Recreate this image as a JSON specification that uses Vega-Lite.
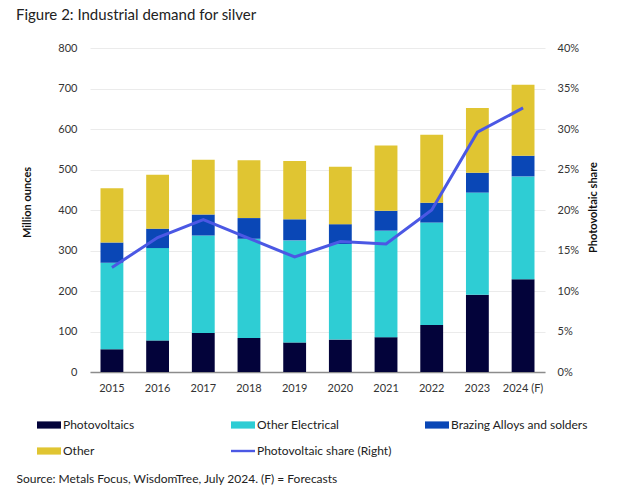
{
  "$schema": "https://vega.github.io/schema/vega-lite/v6.json",
  "width": 455,
  "height": 324,
  "autosize": {"type": "none"},
  "padding": {"left": 90, "top": 48, "right": 79, "bottom": 114},
  "background": "white",
  "config": {
    "view": {"stroke": null},
    "font": "Lato",
    "axis": {"labelFont": "Lato", "titleFont": "Lato", "labelColor": "#333333", "titleColor": "#111111"}
  },
  "title": {
    "text": "Figure 2: Industrial demand for silver",
    "anchor": "start",
    "frame": "group",
    "dx": -74,
    "offset": 19,
    "font": "Lato",
    "fontSize": 15,
    "fontWeight": "normal",
    "color": "#222222"
  },
  "datasets": {
    "bars": [
      {"year": "2015", "cat": "Photovoltaics", "k": 1, "v": 56},
      {"year": "2015", "cat": "Other Electrical", "k": 2, "v": 214},
      {"year": "2015", "cat": "Brazing Alloys and solders", "k": 3, "v": 50},
      {"year": "2015", "cat": "Other", "k": 4, "v": 134},
      {"year": "2016", "cat": "Photovoltaics", "k": 1, "v": 78},
      {"year": "2016", "cat": "Other Electrical", "k": 2, "v": 228},
      {"year": "2016", "cat": "Brazing Alloys and solders", "k": 3, "v": 48},
      {"year": "2016", "cat": "Other", "k": 4, "v": 133},
      {"year": "2017", "cat": "Photovoltaics", "k": 1, "v": 96},
      {"year": "2017", "cat": "Other Electrical", "k": 2, "v": 241},
      {"year": "2017", "cat": "Brazing Alloys and solders", "k": 3, "v": 52},
      {"year": "2017", "cat": "Other", "k": 4, "v": 135},
      {"year": "2018", "cat": "Photovoltaics", "k": 1, "v": 84},
      {"year": "2018", "cat": "Other Electrical", "k": 2, "v": 245},
      {"year": "2018", "cat": "Brazing Alloys and solders", "k": 3, "v": 51},
      {"year": "2018", "cat": "Other", "k": 4, "v": 143},
      {"year": "2019", "cat": "Photovoltaics", "k": 1, "v": 73},
      {"year": "2019", "cat": "Other Electrical", "k": 2, "v": 252},
      {"year": "2019", "cat": "Brazing Alloys and solders", "k": 3, "v": 52},
      {"year": "2019", "cat": "Other", "k": 4, "v": 144},
      {"year": "2020", "cat": "Photovoltaics", "k": 1, "v": 80},
      {"year": "2020", "cat": "Other Electrical", "k": 2, "v": 236},
      {"year": "2020", "cat": "Brazing Alloys and solders", "k": 3, "v": 49},
      {"year": "2020", "cat": "Other", "k": 4, "v": 142},
      {"year": "2021", "cat": "Photovoltaics", "k": 1, "v": 86},
      {"year": "2021", "cat": "Other Electrical", "k": 2, "v": 263},
      {"year": "2021", "cat": "Brazing Alloys and solders", "k": 3, "v": 49},
      {"year": "2021", "cat": "Other", "k": 4, "v": 161},
      {"year": "2022", "cat": "Photovoltaics", "k": 1, "v": 116},
      {"year": "2022", "cat": "Other Electrical", "k": 2, "v": 253},
      {"year": "2022", "cat": "Brazing Alloys and solders", "k": 3, "v": 49},
      {"year": "2022", "cat": "Other", "k": 4, "v": 168},
      {"year": "2023", "cat": "Photovoltaics", "k": 1, "v": 191},
      {"year": "2023", "cat": "Other Electrical", "k": 2, "v": 252},
      {"year": "2023", "cat": "Brazing Alloys and solders", "k": 3, "v": 49},
      {"year": "2023", "cat": "Other", "k": 4, "v": 160},
      {"year": "2024 (F)", "cat": "Photovoltaics", "k": 1, "v": 229},
      {"year": "2024 (F)", "cat": "Other Electrical", "k": 2, "v": 254},
      {"year": "2024 (F)", "cat": "Brazing Alloys and solders", "k": 3, "v": 51},
      {"year": "2024 (F)", "cat": "Other", "k": 4, "v": 175}
    ],
    "share": [
      {"year": "2015", "s": 0.129},
      {"year": "2016", "s": 0.166},
      {"year": "2017", "s": 0.188},
      {"year": "2018", "s": 0.165},
      {"year": "2019", "s": 0.142},
      {"year": "2020", "s": 0.161},
      {"year": "2021", "s": 0.158},
      {"year": "2022", "s": 0.200},
      {"year": "2023", "s": 0.296},
      {"year": "2024 (F)", "s": 0.326}
    ]
  },
  "encoding": {
    "x": {
      "field": "year",
      "type": "nominal",
      "sort": null,
      "scale": {"paddingInner": 0.5, "paddingOuter": 0.23},
      "axis": {
        "labelAngle": 0,
        "ticks": false,
        "domainColor": "#8c8c8c",
        "domainWidth": 1.5,
        "labelPadding": 10,
        "labelFontSize": 11,
        "title": "Source: Metals Focus, WisdomTree, July 2024. (F) = Forecasts",
        "titleX": -74,
        "titleY": 106,
        "titleAlign": "left",
        "titleAnchor": null,
        "titleBaseline": "middle",
        "titleFontSize": 12,
        "titleFontWeight": "normal",
        "titleColor": "#222222"
      }
    }
  },
  "layer": [
    {
      "data": {"name": "bars"},
      "mark": {"type": "bar"},
      "encoding": {
        "y": {
          "field": "v",
          "type": "quantitative",
          "aggregate": "sum",
          "scale": {"domain": [0, 800]},
          "axis": {
            "values": [0, 100, 200, 300, 400, 500, 600, 700, 800],
            "domain": false,
            "ticks": false,
            "grid": true,
            "gridColor": "#ebebeb",
            "labelPadding": 13,
            "labelFontSize": 11,
            "title": "Million ounces",
            "titleFontSize": 11,
            "titleFontWeight": "bold",
            "titleX": -63,
            "titleY": 154,
            "titleAngle": 270,
            "titleAlign": "center",
            "titleBaseline": "middle"
          }
        },
        "order": {"field": "k", "type": "quantitative", "sort": "ascending"},
        "color": {
          "field": "cat",
          "type": "nominal",
          "scale": {
            "domain": ["Photovoltaics", "Other Electrical", "Brazing Alloys and solders", "Other", "Photovoltaic share (Right)"],
            "range": ["#03033a", "#2ecdd4", "#0a47b6", "#e0c532", "#4b58e4"]
          },
          "legend": {
            "orient": "none",
            "legendX": -53,
            "legendY": 365,
            "direction": "horizontal",
            "columns": 3,
            "gridAlign": "all",
            "columnPadding": 31,
            "rowPadding": 8,
            "title": null,
            "labelFont": "Lato",
            "labelFontSize": 12,
            "labelColor": "#222222",
            "labelOffset": 2,
            "symbolSize": 576,
            "symbolStrokeWidth": 0,
            "encode": {
              "symbols": {
                "update": {
                  "shape": {"signal": "datum.value === 'Photovoltaic share (Right)' ? 'M-1,-0.1H1V0.1H-1Z' : 'M-1,-0.3H1V0.3H-1Z'"},
                  "fill": {"scale": "color", "field": "value"},
                  "stroke": {"value": "transparent"},
                  "strokeWidth": {"value": 0},
                  "opacity": {"value": 1}
                }
              }
            }
          }
        }
      }
    },
    {
      "data": {"name": "share"},
      "mark": {"type": "line", "strokeWidth": 3},
      "encoding": {
        "y": {
          "field": "s",
          "type": "quantitative",
          "scale": {"domain": [0, 0.4]},
          "axis": {
            "orient": "right",
            "values": [0, 0.05, 0.1, 0.15, 0.2, 0.25, 0.3, 0.35, 0.4],
            "format": ".0%",
            "domain": false,
            "ticks": false,
            "grid": false,
            "labelPadding": 12,
            "labelFontSize": 11,
            "title": "Photovoltaic share",
            "titleFontSize": 11,
            "titleFontWeight": "bold",
            "titleX": 48,
            "titleY": 159,
            "titleAngle": 270,
            "titleAlign": "center",
            "titleBaseline": "middle"
          }
        },
        "color": {"datum": "Photovoltaic share (Right)"}
      }
    }
  ],
  "resolve": {"scale": {"y": "independent"}}
}
